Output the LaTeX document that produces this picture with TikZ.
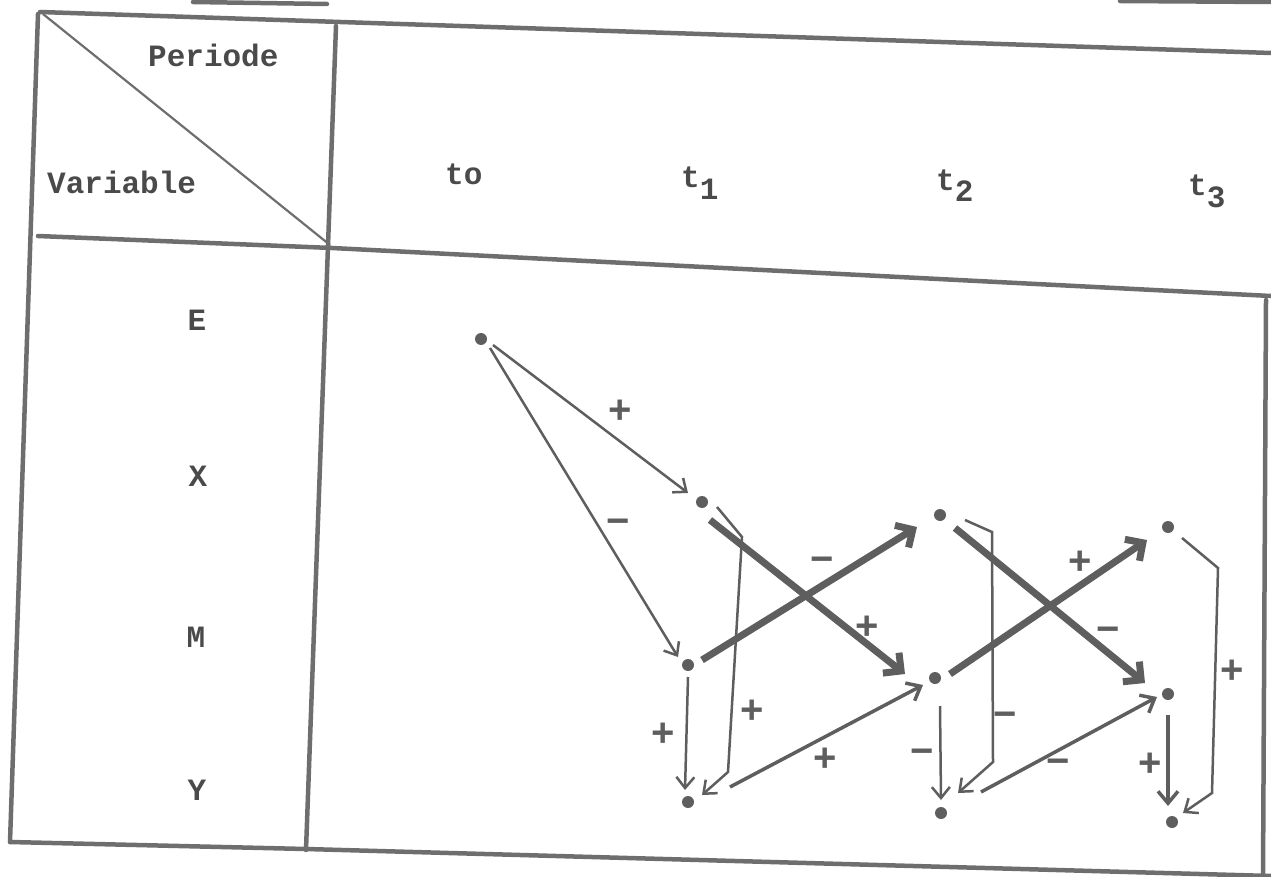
\documentclass[tikz,border=0pt]{standalone}
\usepackage{fontspec}
\setmonofont{Liberation Mono}
\setsansfont{Liberation Sans}
\usetikzlibrary{arrows.meta}
\definecolor{ink}{HTML}{5E5E5E}
\definecolor{rule}{HTML}{6E6E6E}
\definecolor{txt}{HTML}{4A4A4A}
\begin{document}
\begin{tikzpicture}[x=1pt,y=-1pt,
  tableline/.style={draw=rule,line width=4.5pt,line cap=round},
  diagline/.style={draw=rule,line width=2.2pt},
  dot/.style={circle,fill=ink,inner sep=0pt,minimum size=12pt},
  lab/.style={font=\fontsize{31}{31}\selectfont\ttfamily\bfseries,text=txt,inner sep=0pt},
  sign/.style={font=\fontsize{40}{40}\selectfont\sffamily\bfseries,text=ink,inner sep=0pt},
  thinarrow/.style={draw=ink,line width=2.5pt,-{Straight Barb[length=11pt,width=18pt]}},
  medarrow/.style={draw=ink,line width=3.5pt,-{Straight Barb[length=12pt,width=20pt]}},
  thickarrow/.style={draw=ink,line width=7pt,-{Straight Barb[length=13pt,width=26pt]}},
]
\useasboundingbox (0,0) rectangle (1271,877);

% table frame
\draw[tableline] (193,2) -- (327,4);
\draw[tableline] (1120,1) -- (1271,2);
\draw[tableline] (40,12) -- (1271,53);
\draw[tableline] (38,14) -- (10,842);
\draw[tableline] (336,26) -- (306,850);
\draw[tableline] (38,236) -- (332,248) -- (1271,296);
\draw[tableline] (10,842) -- (306,849) -- (1271,876);
\draw[tableline] (1266,300) -- (1263,877);
\draw[diagline] (43,14) -- (330,245);

% header texts
\node[lab,anchor=base west] (periode) at (148,67) {Periode};
\node[lab,anchor=base west] (variable) at (47,194) {Variable};
\node[lab,anchor=base west] (t0) at (445,185) {to};
\node[lab,anchor=base west] (t1) at (681,188) {t\raisebox{-0.36em}{1}};
\node[lab,anchor=base west] (t2) at (936,191) {t\raisebox{-0.33em}{2}};
\node[lab,anchor=base west] (t3) at (1188,196) {t\raisebox{-0.36em}{3}};

% row labels
\node[lab] (lE) at (197,320) {E};
\node[lab] (lX) at (198,476) {X};
\node[lab] (lM) at (196,637) {M};
\node[lab] (lY) at (197,790) {Y};

% dots
\node[dot] (e0) at (481,339) {};
\node[dot] (x1) at (702,502) {};
\node[dot] (m1) at (688,665) {};
\node[dot] (y1) at (688,802) {};
\node[dot] (x2) at (940,515) {};
\node[dot] (m2) at (935,678) {};
\node[dot] (y2) at (941,813) {};
\node[dot] (x3) at (1168,527) {};
\node[dot] (m3) at (1168,694) {};
\node[dot] (y3) at (1172,822) {};

% connectors
\draw[thinarrow] ([shift={(12,6)}]e0.center) -- ([shift={(-14,-9)}]x1.center);
\draw[thinarrow] ([shift={(9,9)}]e0.center) -- ([shift={(-10,-8)}]m1.center);
\draw[thickarrow] ([shift={(8,18)}]x1.center) -- ([shift={(-30,-4)}]m2.center);
\draw[thickarrow] ([shift={(14,-5)}]m1.center) -- ([shift={(-23,12)}]x2.center);
\draw[thinarrow] ([shift={(0,12)}]m1.center) -- ([shift={(-3,-12)}]y1.center);
\draw[thinarrow] ([shift={(15,5)}]x1.center) -- ([shift={(40,35)}]x1.center)
   -- ([shift={(40,-30)}]y1.center) -- ([shift={(14,-7)}]y1.center);
\draw[medarrow] ([shift={(42,-15)}]y1.center) -- ([shift={(-12,7)}]m2.center);
\draw[thickarrow] ([shift={(15,13)}]x2.center) -- ([shift={(-23,-11)}]m3.center);
\draw[thickarrow] ([shift={(15,-4)}]m2.center) -- ([shift={(-21,13)}]x3.center);
\draw[thinarrow] ([shift={(5,28)}]m2.center) -- ([shift={(0,-13)}]y2.center);
\draw[thinarrow] ([shift={(25,5)}]x2.center) -- ([shift={(52,17)}]x2.center)
   -- ([shift={(52,-51)}]y2.center) -- ([shift={(17,-20)}]y2.center);
\draw[medarrow] ([shift={(40,-21)}]y2.center) -- ([shift={(-11,3)}]m3.center);
\draw[medarrow] ([shift={(0,21)}]m3.center) -- ([shift={(-4,-16)}]y3.center);
\draw[thinarrow] ([shift={(14,11)}]x3.center) -- ([shift={(50,41)}]x3.center)
   -- ([shift={(40,-29)}]y3.center) -- ([shift={(11,-9)}]y3.center);

% signs
\node[sign] (s1) at (620,412) {+};
\node[sign] (s2) at (618,527) {−};
\node[sign] (s3) at (867,628) {+};
\node[sign] (s4) at (822,565) {−};
\node[sign] (s5) at (663,735) {+};
\node[sign] (s6) at (752,712) {+};
\node[sign] (s7) at (825,760) {+};
\node[sign] (s8) at (1108,635) {−};
\node[sign] (s9) at (1080,563) {+};
\node[sign] (s10) at (922,757) {−};
\node[sign] (s11) at (1005,720) {−};
\node[sign] (s12) at (1058,767) {−};
\node[sign] (s13) at (1150,765) {+};
\node[sign] (s14) at (1232,672) {+};
\end{tikzpicture}
\end{document}
